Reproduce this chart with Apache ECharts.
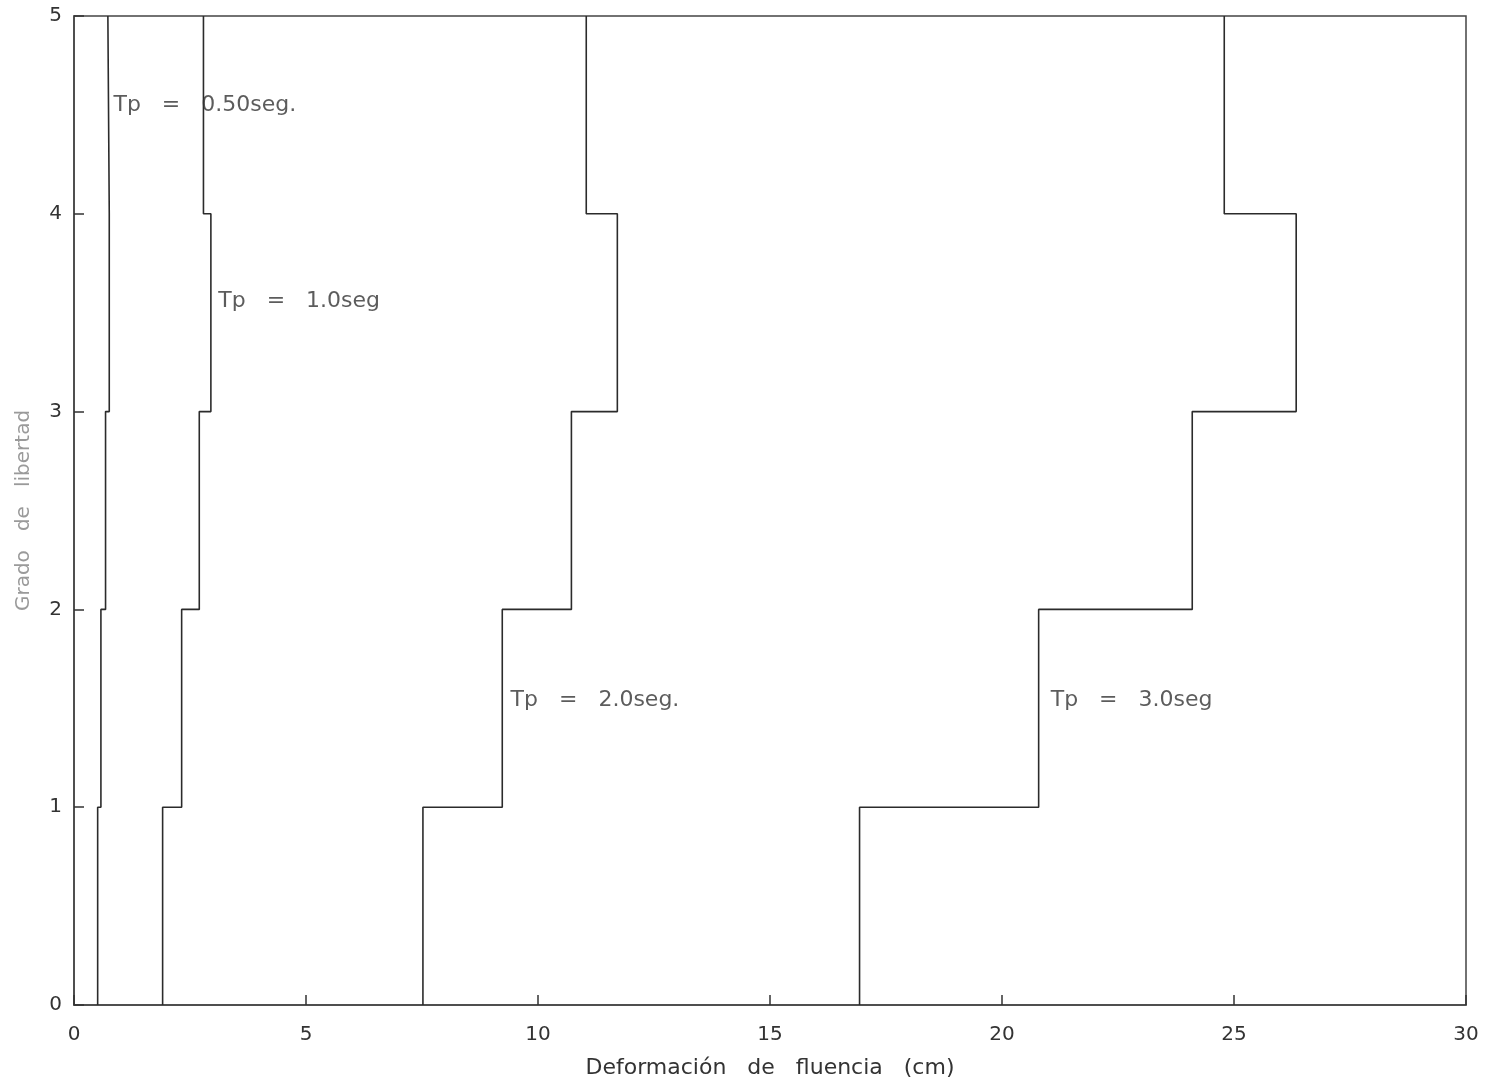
<!DOCTYPE html>
<html>
<head>
<meta charset="utf-8">
<script src="https://cdn.jsdelivr.net/npm/echarts@6/dist/echarts.min.js"></script>
<style>
  html, body { margin: 0; padding: 0; background: #fff; }
  #chart { width: 1486px; height: 1084px; }
</style>
</head>
<body>
<div id="chart"></div>
<script>
// Storey levels (grado de libertad) and yield deformation per storey, cm
const levels = [0, 1, 2, 3, 4, 5];
const tp050 = [0.51, 0.58, 0.68, 0.76, 0.73];
const tp100 = [1.91, 2.32, 2.70, 2.95, 2.79];
const tp200 = [7.52, 9.23, 10.72, 11.71, 11.04];
const tp300 = [16.93, 20.79, 24.10, 26.34, 24.79];

const seriesNames = ['Tp = 0.50seg.', 'Tp = 1.0seg', 'Tp = 2.0seg.', 'Tp = 3.0seg'];

// Curve annotations: [x, y, text]
const labelX = [0.85, 3.11, 9.41, 21.05];
const labelY = [4.55, 3.56, 1.54, 1.54];
const labelText = ['Tp   =   0.50seg.', 'Tp   =   1.0seg', 'Tp   =   2.0seg.', 'Tp   =   3.0seg'];

const xTicks = [0, 5, 10, 15, 20, 25, 30];
const yTicks = [0, 1, 2, 3, 4, 5];

// Staircase: each storey value holds between consecutive levels
function stairs(vals) {
  const pts = [];
  vals.forEach((v, i) => {
    pts.push([v, levels[i]]);
    pts.push([v, levels[i + 1]]);
  });
  return pts;
}

const FONT = 'DejaVu Sans';
const ink = '#2b2b2b';

const curves = [tp050, tp100, tp200, tp300].map((vals, i) => ({
  name: seriesNames[i],
  type: 'line',
  data: stairs(vals),
  showSymbol: false,
  symbol: 'none',
  lineStyle: { color: ink, width: 1.6 },
  animation: false,
  z: 3
}));

const labels = {
  type: 'scatter',
  symbolSize: 0,
  silent: true,
  animation: false,
  data: labelX.map((x, i) => [x, labelY[i], labelText[i]]),
  label: {
    show: true,
    position: 'right',
    distance: 0,
    formatter: p => p.data[2],
    fontFamily: FONT,
    fontSize: 22,
    color: '#333'
  },
  z: 5
};

const chart = echarts.init(document.getElementById('chart'), null, { renderer: 'canvas' });
chart.setOption({
  backgroundColor: '#fff',
  grid: {
    left: 74, right: 20, top: 16, bottom: 78,
    show: true, borderColor: '#444', borderWidth: 1.5, backgroundColor: 'transparent'
  },
  xAxis: {
    type: 'value',
    min: xTicks[0], max: xTicks[xTicks.length - 1], interval: 5,
    name: 'Deformación   de   fluencia   (cm)',
    nameLocation: 'middle', nameGap: 52,
    nameTextStyle: { fontFamily: FONT, fontSize: 22, color: '#333' },
    axisLine: { show: true, lineStyle: { color: '#444', width: 1.5 } },
    axisTick: { show: true, inside: true, length: 10, lineStyle: { color: '#333', width: 1.5 } },
    axisLabel: { fontFamily: FONT, fontSize: 20, color: '#333', margin: 20 },
    splitLine: { show: false }
  },
  yAxis: {
    type: 'value',
    min: yTicks[0], max: yTicks[yTicks.length - 1], interval: 1,
    name: 'Grado   de   libertad',
    nameLocation: 'middle', nameGap: 40, nameRotate: 90,
    nameTextStyle: { fontFamily: FONT, fontSize: 20, color: '#9a9a9a' },
    axisLine: { show: true, lineStyle: { color: '#444', width: 1.5 } },
    axisTick: { show: true, inside: true, length: 10, lineStyle: { color: '#333', width: 1.5 } },
    axisLabel: { fontFamily: FONT, fontSize: 20, color: '#333', margin: 12 },
    splitLine: { show: false }
  },
  series: [...curves, labels]
});
</script>
</body>
</html>
